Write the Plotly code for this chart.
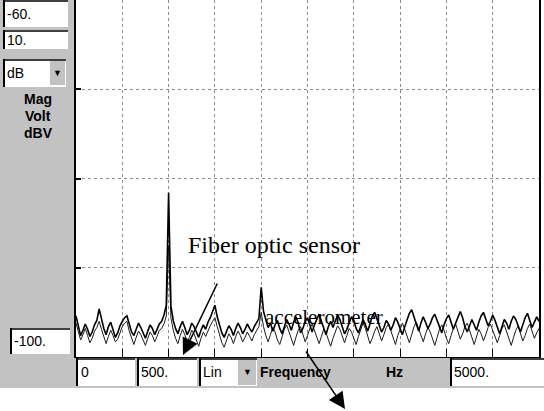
import plotly.graph_objects as go

# ---------------- data ----------------
freq_step = 25
fiber_db = [
    -95.4, -96.5, -97.6, -97.0, -96.3, -96.9, -97.7, -97.2, -96.4, -95.9,
    -94.6, -95.7, -96.8, -97.5, -96.6, -96.1, -96.9, -97.8, -97.3, -96.5,
    -96.0, -95.6, -95.4, -96.3, -97.2, -97.6, -96.8, -96.2, -96.7, -97.4,
    -97.9, -97.1, -96.4, -96.8, -97.5, -96.9, -96.3, -96.0, -95.3, -94.2,
    -81.6,
    -94.3, -95.9, -96.8, -97.4, -96.6, -96.0, -96.7, -97.5, -97.0,
    -96.2, -96.6, -97.3, -97.8, -97.0, -96.4, -96.9, -96.1, -95.6, -95.0,
    -94.2,
    -95.5, -96.4, -97.3, -97.8, -97.1, -96.5, -96.9, -97.6, -96.8,
    -96.2, -96.7, -97.4, -96.9, -96.3, -96.8, -97.2, -96.6, -96.1, -95.7,
    -92.2,
    -94.9, -95.8, -96.7, -96.2, -97.1, -96.4, -95.9, -96.8, -97.4,
    -96.6, -95.8, -96.3, -97.0, -96.1, -95.5, -96.2, -97.3, -96.8, -96.0,
    -95.6, -96.5, -97.2, -96.4, -95.7, -95.2, -96.0, -96.9, -97.5, -96.6,
    -96.0, -96.7, -95.9, -95.3, -95.8, -96.6, -97.4, -96.9, -96.1, -95.5,
    -95.9, -96.8, -97.3, -96.5, -95.8, -96.4, -97.1, -96.3, -95.4, -95.0,
    -95.7, -96.5, -97.2, -96.7, -95.9, -96.3, -97.0, -96.4, -95.6, -96.1,
    -96.9, -97.5, -96.6, -95.8, -95.1, -94.7, -95.6, -96.5, -97.1, -96.2,
    -95.5, -96.1, -96.8, -96.3, -95.6, -95.2, -95.9, -96.7, -97.3, -96.4,
    -95.7, -95.3, -96.0, -96.9, -96.2, -95.5, -94.9, -95.6, -96.6, -97.2,
    -96.5, -95.8, -96.4, -97.0, -96.1, -95.4, -95.0, -95.7, -96.5, -96.0,
    -95.3, -95.9, -96.8, -97.4, -96.6, -95.8, -96.2, -96.9, -96.0, -95.4,
    -95.8, -96.6, -97.2, -96.4, -95.6, -95.1, -95.9, -96.7, -96.1, -95.5, -96.0,
]
accel_db = [
    -96.2, -97.3, -98.1, -97.5, -96.8, -97.6, -98.4, -97.9, -97.1, -96.7,
    -96.0, -96.9, -97.8, -98.5, -97.7, -97.0, -97.6, -98.3, -98.0, -97.2,
    -96.6, -96.2, -96.0, -97.1, -98.0, -98.6, -97.8, -97.1, -97.5, -98.2,
    -98.7, -97.9, -97.2, -97.6, -98.3, -97.7, -97.0, -96.8, -96.3, -95.4,
    -87.5,
    -95.6, -97.0, -97.9, -98.5, -97.6, -96.9, -97.5, -98.3, -97.8,
    -97.0, -97.4, -98.2, -98.8, -97.9, -97.2, -97.7, -97.0, -96.5, -96.0,
    -95.6,
    -96.6, -97.5, -98.4, -98.9, -98.1, -97.4, -97.8, -98.5, -97.7,
    -97.1, -97.6, -98.3, -97.8, -97.2, -97.7, -98.2, -97.5, -97.0, -96.6,
    -95.0,
    -96.6, -97.6, -98.3, -97.5, -96.7, -97.2, -98.1, -98.6, -97.7,
    -96.9, -96.4, -97.1, -98.0, -98.7, -97.8, -97.0, -96.6, -97.4, -98.3,
    -97.6, -96.8, -96.3, -97.0, -97.9, -98.5, -97.7, -96.9, -97.3, -98.1,
    -98.8, -97.9, -97.1, -96.5, -96.9, -97.8, -98.4, -97.6, -96.8, -97.2,
    -98.0, -98.6, -97.7, -96.9, -96.2, -96.8, -97.7, -98.5, -97.9, -97.1,
    -96.6, -97.3, -98.2, -97.5, -96.7, -96.3, -97.1, -98.0, -98.6, -97.6,
    -96.8, -96.2, -96.9, -97.8, -98.4, -97.5, -96.6, -96.1, -96.8, -97.7,
    -98.3, -97.4, -96.7, -97.2, -98.1, -98.7, -97.8, -96.9, -96.4, -97.0,
    -97.9, -98.5, -97.6, -96.8, -96.3, -97.1, -98.0, -97.4, -96.6, -96.2,
    -96.9, -97.8, -98.6, -97.7, -96.9, -97.4, -98.2, -97.5, -96.7, -96.3,
    -97.0, -97.9, -98.4, -97.6, -96.8, -96.4, -97.2, -98.1, -98.7, -97.8,
    -97.0, -96.5, -97.3, -98.2, -97.6, -96.8, -96.3, -97.1, -97.9, -97.3, -96.8,
]
freqs = [freq_step * i for i in range(len(fiber_db))]

x_range = [0, 5000]
y_range = [-100, -60]
left_box_labels = ["-60.", "10.", "dB"]
unit_options = ["Mag", "Volt", "dBV"]
bottom_box_labels = ["0", "500.", "Lin", "5000."]
axis_labels = ["Frequency", "Hz", "-100."]
sensor_labels = ["Fiber optic sensor", "accelerometer"]

# ---------------- layout helpers (pixel -> paper) ----------------
W, H = 544, 411
ML, MR, MT, MB = 76, 5, 0, 54
PW, PH = W - ML - MR, H - MT - MB


def px(x):
    return (x - ML) / PW


def py(y):
    return (H - MB - y) / PH


GRAY = "#c2c2c2"
shapes = []


def rect(x0, y0, x1, y1, fill, line_w=0, line_c="black"):
    shapes.append(dict(type="rect", xref="paper", yref="paper",
                       x0=px(x0), x1=px(x1), y0=py(y1), y1=py(y0),
                       fillcolor=fill, line=dict(width=line_w, color=line_c),
                       layer="above"))


def line(x0, y0, x1, y1, w=2, c="black"):
    shapes.append(dict(type="line", xref="paper", yref="paper",
                       x0=px(x0), x1=px(x1), y0=py(y0), y1=py(y1),
                       line=dict(width=w, color=c), layer="above"))


def box(x0, y0, x1, y1):
    rect(x0, y0, x1, y1, "white")
    line(x0 + 1, y0, x0 + 1, y1, 2)
    line(x0, y0 + 1, x1, y0 + 1, 1.5)


# left panel
rect(0, 0, 74, 388, GRAY)
# bottom bar
rect(0, 358, 544, 388, GRAY)
box(3, 0, 68, 27)
box(3, 30, 68, 49)
box(3, 59, 66, 87)
rect(50, 61, 65, 85, GRAY)
box(10, 328, 70, 354)
box(76, 358, 135, 386)
box(137, 358, 197, 386)
box(199, 358, 257, 386)
rect(238, 360, 256, 385, GRAY)
box(450, 358, 544, 386)

annotations = []


def label(x, y, text, size=14, bold=False, xanchor="left"):
    annotations.append(dict(
        xref="paper", yref="paper", x=px(x), y=py(y), text=(f"<b>{text}</b>" if bold else text),
        showarrow=False, xanchor=xanchor, yanchor="middle",
        font=dict(family="Liberation Sans, Arial", size=size, color="black")))


label(5, 14, left_box_labels[0])
label(5, 40, left_box_labels[1])
label(5, 73, left_box_labels[2])
label(57, 73, "▼", size=9, xanchor="center")
for t, yy in zip(unit_options, [99, 116, 133]):
    label(38, yy, t, size=14, bold=True, xanchor="center")
label(12, 341, axis_labels[2])
label(79, 372, bottom_box_labels[0])
label(139, 372, bottom_box_labels[1])
label(201, 372, bottom_box_labels[2])
label(247, 372, "▼", size=9, xanchor="center")
label(452, 372, bottom_box_labels[3])
label(258, 372, axis_labels[0], size=14, bold=True)
label(384, 372, axis_labels[1], size=14, bold=True)

# Fiber optic sensor text + arrows
annotations.append(dict(xref="paper", yref="paper", x=px(186), y=py(245),
                        text=sensor_labels[0], showarrow=False, xanchor="left", yanchor="middle",
                        font=dict(family="Liberation Serif, Times New Roman", size=24, color="black")))
annotations.append(dict(xref="paper", yref="paper", x=px(183), y=py(355), text="",
                        showarrow=True, axref="pixel", ayref="pixel", ax=35, ay=-73,
                        arrowhead=2, arrowsize=2.2, arrowwidth=1.5, arrowcolor="black", standoff=0))
annotations.append(dict(xref="paper", yref="paper", x=px(345), y=py(409), text="",
                        showarrow=True, axref="pixel", ayref="pixel", ax=-40, ay=-59,
                        arrowhead=2, arrowsize=2.2, arrowwidth=1.5, arrowcolor="black", standoff=0))

fig = go.Figure()
# accelerometer text under the traces
fig.add_trace(go.Scatter(
    x=[(265 - ML) / PW * (x_range[1] - x_range[0])], y=[-95.7],
    mode="text", text=[sensor_labels[1]], textposition="middle right",
    textfont=dict(family="Liberation Serif, Times New Roman", size=21, color="black"),
    showlegend=False, hoverinfo="skip", cliponaxis=False))
fig.add_trace(go.Scatter(x=freqs, y=accel_db, mode="lines",
                         line=dict(color="#1a1a1a", width=1), showlegend=False))
fig.add_trace(go.Scatter(x=freqs, y=fiber_db, mode="lines",
                         line=dict(color="black", width=1.6), showlegend=False))

fig.update_layout(
    width=W, height=H,
    margin=dict(l=ML, r=MR, t=MT, b=MB),
    paper_bgcolor="white", plot_bgcolor="white",
    shapes=shapes, annotations=annotations,
    xaxis=dict(range=x_range, dtick=500, showgrid=True, gridcolor="#8c8c8c", griddash="dot",
               gridwidth=1, showline=True, linecolor="black", linewidth=2,
               ticks="inside", ticklen=8, tickcolor="black", tickwidth=1,
               showticklabels=False, zeroline=False, fixedrange=True),
    yaxis=dict(range=y_range, dtick=10, showgrid=True, gridcolor="#8c8c8c", griddash="dot",
               gridwidth=1, showline=True, linecolor="black", linewidth=2, mirror=True,
               ticks="inside", ticklen=5, tickcolor="black", tickwidth=2,
               showticklabels=False, zeroline=False, fixedrange=True),
)

fig.write_html("out.html", post_script="document.body.style.margin='0';",
               config={"displayModeBar": False})
